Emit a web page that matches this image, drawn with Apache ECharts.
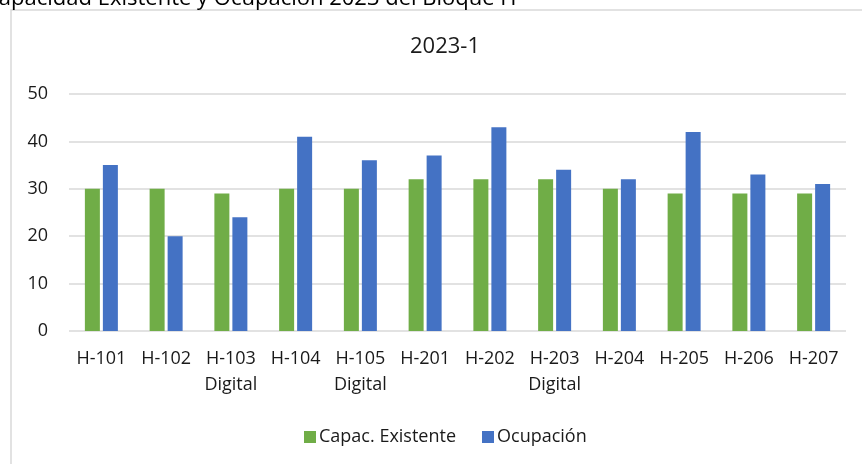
<!DOCTYPE html>
<html>
<head>
<meta charset="utf-8">
<script src="https://cdn.jsdelivr.net/npm/echarts@6/dist/echarts.min.js"></script>
<style>
  html, body { margin: 0; padding: 0; background: #fff; }
  #chart { width: 862px; height: 464px; }
</style>
</head>
<body>
<div id="chart"></div>
<script>
// datos
const salones = ['H-101', 'H-102', 'H-103\nDigital', 'H-104', 'H-105\nDigital', 'H-201',
  'H-202', 'H-203\nDigital', 'H-204', 'H-205', 'H-206', 'H-207']
const capacExistente = [30, 30, 29, 30, 30, 32, 32, 32, 30, 29, 29, 29]
const ocupacion = [35, 20, 24, 41, 36, 37, 43, 34, 32, 42, 33, 31]
const yTicks = { min: 0, max: 50, interval: 10 }

const fuente = '"Open Sans", Lato, sans-serif'
const colorTexto = '#1a1a1a'
let myChart = echarts.init(document.getElementById('chart'), null, { renderer: 'canvas' })
myChart.setOption({
  animation: false,
  backgroundColor: '#fff',
  textStyle: { fontFamily: fuente },
  graphic: [
    {
      type: 'rect',
      shape: { x: 11, y: 10, width: 900, height: 500 },
      style: { fill: 'none', stroke: '#d9d9d9', lineWidth: 1.5 },
      silent: true
    },
    {
      type: 'text',
      left: -15,
      top: -12,
      style: {
        text: 'Capacidad Existente y Ocupación 2023 del Bloque H',
        font: '22px ' + fuente,
        fill: '#000'
      }
    }
  ],
  title: {
    text: '2023-1',
    left: 405,
    top: 31,
    textStyle: { fontSize: 22, fontWeight: 'normal', color: colorTexto, fontFamily: fuente }
  },
  legend: {
    data: ['Capac. Existente', 'Ocupación'],
    left: 299,
    top: 423,
    itemWidth: 12,
    itemHeight: 12,
    itemGap: 26,
    icon: 'rect',
    textStyle: { fontSize: 18, color: colorTexto, padding: [0, 0, 0, -2] }
  },
  grid: { left: 69, right: 16, top: 94, bottom: 133, containLabel: false },
  xAxis: {
    type: 'category',
    data: salones,
    axisLine: { show: false },
    axisTick: { show: false },
    axisLabel: {
      interval: 0,
      fontSize: 18,
      color: colorTexto,
      margin: 15,
      lineHeight: 26,
      verticalAlign: 'top'
    }
  },
  yAxis: {
    type: 'value',
    min: yTicks.min,
    max: yTicks.max,
    interval: yTicks.interval,
    axisLine: { show: false },
    axisTick: { show: false },
    axisLabel: { fontSize: 18, color: colorTexto, margin: 21 },
    splitLine: { lineStyle: { color: '#d9d9d9', width: 1.5 } }
  },
  series: [
    {
      name: 'Capac. Existente',
      type: 'bar',
      data: capacExistente,
      barWidth: 15,
      barGap: '20%',
      itemStyle: { color: '#70ad47' }
    },
    {
      name: 'Ocupación',
      type: 'bar',
      data: ocupacion,
      barWidth: 15,
      itemStyle: { color: '#4472c4' }
    }
  ]
})
</script>
</body>
</html>
